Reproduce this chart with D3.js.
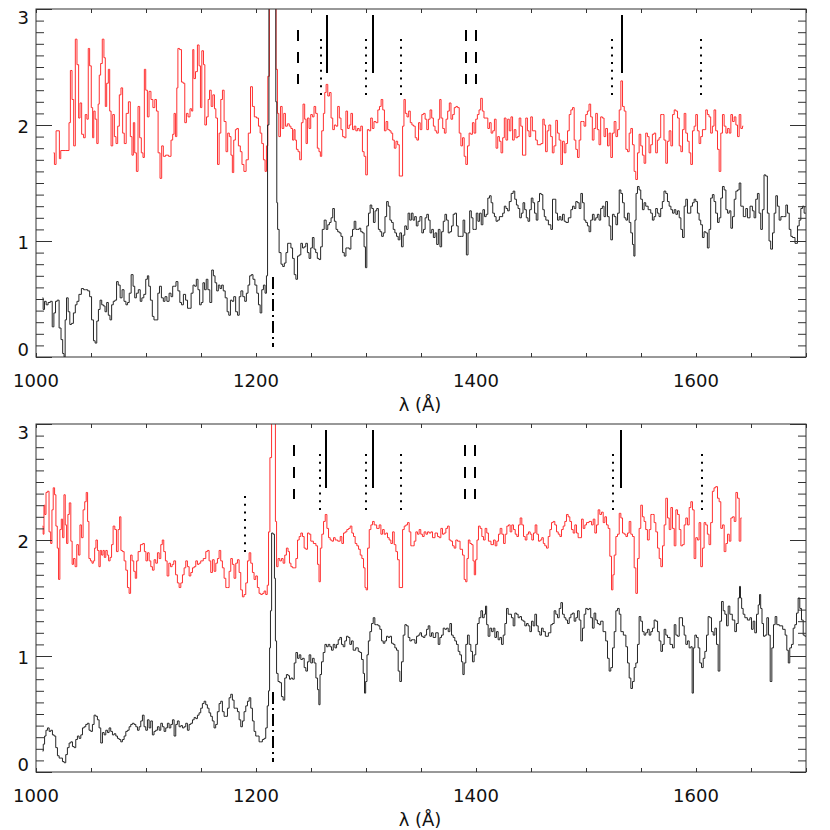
<!DOCTYPE html>
<html>
<head>
<meta charset="utf-8">
<script src="https://cdn.jsdelivr.net/npm/d3@7"></script>
<style>
  body { margin: 0; background: #fff; }
  svg { display: block; }
  text { font-family: "DejaVu Sans", sans-serif; fill: #111; }
</style>
</head>
<body>
<div id="chart"></div>
<script>
// spectra, [wavelength (A), flux]
const topRed = [
  [1016,1.76],[1017.5,1.66],[1019,1.95],[1021,1.95],[1021.5,1.71],[1023.5,1.78],[1029.5,1.78],[1030.5,2.02],[1032,2.47],[1033.5,2.22],
  [1035,1.82],[1036.5,2.74],[1038,2.52],[1039.5,2.06],[1040.5,2.19],[1042.5,1.92],[1044,1.89],[1045.5,2.09],[1047,2.05],[1048,2.66],
  [1049.5,2.51],[1051,2.15],[1052,1.89],[1053,2.12],[1054.5,2.05],[1056,1.84],[1057,2.18],[1058,2.43],[1059.5,2.53],[1061,2.74],
  [1062.5,2.58],[1063.5,2.16],[1065,2.36],[1066.5,2.48],[1067.5,2.12],[1069,1.82],[1070.5,2.09],[1072,1.90],[1073.5,1.84],[1075,1.99],
  [1076.5,2.26],[1078,2.32],[1079.5,1.93],[1081,1.84],[1083,2.10],[1085,2.20],[1086.5,1.90],[1088,1.74],[1089,2.02],[1090.5,1.76],
  [1092,1.60],[1093.5,2.16],[1095,1.89],[1096.5,1.76],[1098,1.72],[1099,2.48],[1100.5,2.30],[1102,2.07],[1103.5,2.29],[1105.5,2.22],
  [1107,2.15],[1109,2.22],[1110,2.12],[1112,1.76],[1113.5,1.54],[1115,1.82],[1116.5,1.73],[1119,1.74],[1122,1.73],[1123.5,1.87],
  [1125,1.92],[1126,2.10],[1127.5,1.90],[1128.5,2.32],[1129.5,2.66],[1131.5,2.65],[1133,2.37],[1134.5,2.36],[1136,2.02],[1137.5,2.10],
  [1139,2.07],[1141,2.14],[1142,2.12],[1143,2.65],[1144,2.40],[1146,2.46],[1147.5,2.69],[1149,2.51],[1150,2.15],[1151.5,2.64],
  [1153,2.52],[1154,2.00],[1156,2.07],[1157,2.22],[1158.5,2.30],[1160,2.16],[1161.5,2.26],[1163,2.14],[1164,2.06],[1166,1.66],
  [1167,1.93],[1169,2.22],[1170,2.30],[1172,2.03],[1173.5,1.77],[1175,1.93],[1176.5,1.90],[1178,1.74],[1179,1.59],[1180.5,1.87],
  [1182,1.96],[1183,1.97],[1185,1.82],[1186.5,1.77],[1188,1.66],[1190,1.60],[1192,1.70],[1194,1.93],[1196,2.33],[1197.5,2.16],
  [1199.5,2.07],[1201.5,2.06],[1203,1.99],[1204.5,1.93],[1206,1.84],[1207.5,1.70],[1209,1.60],[1210,1.82],[1211.5,2.42],[1213,3.4],
  [1215.5,3.4],[1217.5,3.4],[1219,2.48],[1220,2.10],[1221.5,1.90],[1223,2.16],[1224.5,1.97],[1226,2.10],[1227.5,1.99],[1229.5,2.01],
  [1231,1.99],[1232.5,1.97],[1234,1.87],[1235,1.96],[1236,1.87],[1237.5,1.79],[1239,1.77],[1240.5,1.70],[1242,2.02],[1243.5,2.18],
  [1245,2.05],[1246,1.84],[1247.5,2.06],[1249,1.97],[1250.5,2.09],[1252,2.07],[1253.5,2.16],[1255,2.10],[1256.5,1.80],[1258,1.77],
  [1259,1.73],[1260.5,1.95],[1262,2.10],[1263,2.28],[1264.5,2.35],[1266,2.25],[1267.5,2.28],[1269,2.06],[1270.5,1.96],[1272,2.00],
  [1273.5,1.99],[1275,2.16],[1276.5,2.06],[1278,1.96],[1279.5,1.90],[1281,1.89],[1282.5,2.12],[1284,1.97],[1285.5,2.00],[1287,2.10],
  [1288.5,1.96],[1290,1.99],[1291.5,1.95],[1293,1.97],[1294.5,1.95],[1296,1.99],[1297.5,1.77],[1299,1.73],[1300.5,1.57],[1302,1.96],
  [1303.5,1.95],[1305,2.06],[1306.5,1.97],[1308,2.03],[1310,2.02],[1311.5,2.13],[1313,2.16],[1314.5,2.22],[1316,2.13],[1317.5,1.95],
  [1319,2.03],[1320.5,1.96],[1322,1.95],[1323.5,1.93],[1325,1.87],[1326.5,1.80],[1328,1.86],[1329.5,1.83],[1331,1.56],[1332.5,1.56],
  [1334,1.99],[1335,2.22],[1336.5,2.10],[1338,2.07],[1339.5,2.12],[1341,2.02],[1342.5,2.00],[1344,1.99],[1345.5,1.89],[1347,1.87],
  [1348.5,2.02],[1350,1.96],[1351.5,2.09],[1353,2.10],[1354.5,2.05],[1356,1.96],[1357.5,2.05],[1359,2.13],[1360.5,2.06],[1362,1.99],
  [1363.5,1.95],[1365,1.93],[1366.5,2.05],[1367.5,2.22],[1369,2.06],[1370.5,1.97],[1372,1.93],[1373.5,2.05],[1375,2.12],[1376.5,2.19],
  [1378,2.05],[1379.5,2.09],[1381,2.15],[1382.5,2.16],[1384,2.15],[1385.5,1.93],[1387,1.82],[1388.5,1.89],[1390,1.73],[1391.5,1.66],
  [1393,1.82],[1394.5,1.93],[1396,1.92],[1397.5,2.02],[1399,1.93],[1400.5,2.05],[1402,2.09],[1403.5,2.13],[1405,2.23],[1406.5,2.12],
  [1408,2.06],[1410,2.06],[1411.5,1.97],[1413,2.02],[1414.5,1.93],[1416,1.95],[1417.5,2.05],[1419,1.80],[1420.5,1.90],[1422,1.86],
  [1423.5,1.76],[1425,1.89],[1426.5,2.06],[1428,1.87],[1429.5,2.05],[1431,1.95],[1432.5,2.07],[1434,1.87],[1435.5,1.96],[1437,1.89],
  [1438.5,1.90],[1440,2.06],[1441.5,1.99],[1443,1.74],[1444.5,1.74],[1446,2.06],[1447.5,1.95],[1449,1.90],[1450.5,2.07],[1452,1.95],
  [1453.5,1.95],[1455,1.87],[1456.5,1.83],[1458,1.83],[1460,1.84],[1461.5,2.05],[1462.5,2.00],[1464,1.77],[1465.5,1.95],[1467,2.00],
  [1468.8,1.90],[1470,1.76],[1471.8,1.82],[1473.3,2.04],[1474.8,1.93],[1476.4,1.87],[1477.9,1.66],[1479.4,1.86],[1481,1.76],[1482.4,1.84],
  [1484,1.95],[1485.5,2.09],[1487,2.13],[1488.5,2.15],[1490,1.87],[1491.5,1.79],[1493,1.72],[1494.5,1.87],[1496,2.03],[1497.5,2.03],
  [1499,1.99],[1500.5,2.09],[1502,2.12],[1503.5,2.18],[1505,2.07],[1506.5,1.87],[1508,1.97],[1509.7,2.10],[1511,1.96],[1512.7,1.83],
  [1514,2.07],[1515.8,2.06],[1517,1.90],[1518.8,1.97],[1520.3,1.82],[1521.8,1.93],[1523.3,1.72],[1524.8,1.93],[1526.4,2.03],[1528,1.90],
  [1529.4,1.96],[1531,2.13],[1532.4,2.38],[1534,2.16],[1535.5,2.12],[1537,1.79],[1538.5,1.77],[1540,1.93],[1541.5,1.97],[1543,1.83],
  [1544.5,1.60],[1546,1.53],[1547.6,1.76],[1549,1.92],[1550.6,1.82],[1552,1.74],[1553.6,1.67],[1555,1.93],[1556.7,1.90],[1558,1.76],
  [1559.7,1.83],[1561,1.92],[1562.7,1.93],[1564,1.76],[1565.8,1.87],[1567,1.89],[1568.8,2.09],[1570,2.09],[1571.8,1.87],[1573.3,1.67],
  [1574.8,1.86],[1576.4,1.95],[1578,1.82],[1579.4,2.09],[1581,2.13],[1582.4,2.12],[1584,2.06],[1585.5,1.82],[1587,1.77],[1588.5,1.96],
  [1590,2.10],[1591.5,1.93],[1593,1.86],[1594.5,1.76],[1596,1.66],[1597.6,1.95],[1599,1.99],[1600.6,2.09],[1602,1.95],[1603.6,1.84],
  [1605,1.90],[1606.7,1.96],[1608,1.96],[1609.7,2.13],[1611,2.09],[1612.7,2.07],[1614,1.93],[1615.8,1.99],[1617,2.13],[1618.8,1.95],
  [1620.3,1.79],[1621.8,1.60],[1623.3,1.93],[1624.8,2.09],[1626.4,1.99],[1628,1.93],[1629.4,1.97],[1631,1.93],[1632.4,2.09],[1634,2.03],
  [1635.5,2.07],[1637,2.00],[1638.5,1.90],[1640,2.09],[1641.5,1.97],[1643,1.99]
];

const topBlack = [
  [1006,0.51],[1007,0.41],[1008.5,0.48],[1010,0.45],[1012,0.47],[1014,0.48],[1015.5,0.26],[1017,0.38],[1018.5,0.48],[1020,0.49],
  [1022,0.25],[1023.5,0.15],[1025,0.03],[1026,0.0],[1027,0.32],[1028.5,0.51],[1030,0.39],[1031.5,0.28],[1033,0.29],[1035,0.38],
  [1036.5,0.45],[1038,0.48],[1040,0.54],[1042.5,0.59],[1044,0.58],[1046,0.58],[1048,0.57],[1049.5,0.52],[1051.5,0.32],[1053,0.14],
  [1054.5,0.12],[1056,0.31],[1057.5,0.41],[1059,0.49],[1060.5,0.45],[1062,0.44],[1063.5,0.39],[1065,0.47],[1066.5,0.36],[1068,0.32],
  [1069.5,0.45],[1071,0.48],[1072.5,0.49],[1074,0.65],[1075.5,0.62],[1077.5,0.51],[1079,0.58],[1081,0.48],[1082.5,0.45],[1084,0.47],
  [1085.5,0.55],[1087.5,0.71],[1089,0.61],[1090.5,0.51],[1092,0.55],[1094,0.58],[1095.5,0.48],[1097,0.51],[1099,0.54],[1100.5,0.67],
  [1102,0.70],[1103,0.61],[1105,0.49],[1106.5,0.35],[1108,0.32],[1110,0.32],[1111.5,0.55],[1113,0.61],[1115,0.51],[1116.5,0.48],
  [1118,0.52],[1120,0.48],[1122,0.55],[1123.5,0.52],[1125,0.61],[1126.5,0.61],[1128,0.65],[1130,0.57],[1131.5,0.47],[1133,0.45],
  [1135,0.54],[1137,0.49],[1138.5,0.42],[1140,0.42],[1142,0.55],[1143.5,0.62],[1145,0.61],[1146.5,0.67],[1148,0.58],[1149.5,0.45],
  [1151,0.47],[1152.5,0.64],[1154,0.58],[1155.5,0.67],[1157,0.58],[1159,0.47],[1160.5,0.75],[1162,0.70],[1163.5,0.64],[1165,0.57],
  [1166.5,0.62],[1168,0.59],[1169.5,0.62],[1171,0.57],[1173,0.51],[1174.5,0.39],[1176,0.36],[1177.5,0.49],[1179,0.48],[1180.5,0.52],
  [1182.5,0.39],[1184,0.36],[1185.5,0.52],[1187,0.57],[1189,0.52],[1190.5,0.48],[1192,0.55],[1193.5,0.62],[1195,0.70],[1196.5,0.71],
  [1198,0.67],[1200,0.62],[1201.5,0.55],[1203,0.45],[1204.5,0.38],[1206,0.58],[1207.5,0.62],[1209,0.55],[1210,0.70],[1211,2.0],
  [1212.5,3.4],[1215,3.4],[1217.5,3.4],[1218.5,2.2],[1219.3,1.33],[1220,1.10],[1222,0.90],[1223.5,0.80],[1225,0.78],[1226.5,0.81],
  [1228,0.90],[1229.5,0.98],[1231,0.98],[1232.5,0.94],[1234,0.85],[1235.5,0.71],[1237,0.67],[1238.5,0.87],[1240,0.88],[1241.5,0.98],
  [1243,0.94],[1244.5,0.95],[1246,0.98],[1247.5,0.90],[1249,0.85],[1250.5,0.94],[1252,1.03],[1253.5,0.93],[1255,0.90],[1256.5,0.85],
  [1258,0.84],[1259.5,0.95],[1261,1.10],[1263,1.18],[1264.5,1.10],[1266,1.14],[1267.5,1.16],[1269,1.20],[1270.5,1.28],[1272,1.17],
  [1273.5,1.10],[1275,1.08],[1276.5,1.07],[1278,1.04],[1279.5,0.90],[1281,0.87],[1282.5,0.94],[1284,0.94],[1285.5,0.93],[1287,1.04],
  [1288.5,1.10],[1290,1.17],[1291.5,1.10],[1293,1.10],[1294.5,1.11],[1296,1.08],[1297.5,1.07],[1299,0.95],[1300,0.77],[1301.5,1.13],
  [1303,1.24],[1304.5,1.31],[1306,1.28],[1307.5,1.16],[1309,1.26],[1310.5,1.28],[1312,1.10],[1313.5,1.08],[1315,1.04],[1316.5,1.07],
  [1318,1.21],[1319.5,1.34],[1321,1.30],[1322.5,1.18],[1324,1.16],[1325.5,1.10],[1327,1.07],[1328.5,1.04],[1330,1.01],[1331.5,1.07],
  [1333,0.95],[1334.5,1.05],[1336,1.13],[1337.5,1.10],[1339,1.24],[1340.5,1.18],[1342,1.24],[1343.5,1.18],[1345,1.21],[1346.5,1.13],
  [1348,1.17],[1350,1.21],[1351.5,1.07],[1353,1.10],[1354.5,1.20],[1356,1.23],[1357.5,1.18],[1359,1.07],[1360.5,1.10],[1362,1.03],
  [1363.5,1.07],[1365,0.97],[1366.5,1.10],[1368,0.95],[1369.5,1.08],[1371,1.17],[1372.5,1.23],[1374,1.18],[1375.5,1.07],[1377,1.08],
  [1378.5,1.13],[1380,1.23],[1381.5,1.24],[1383,1.13],[1384.5,1.04],[1386,1.04],[1387.5,1.04],[1389,1.18],[1390.5,1.07],[1392,0.88],
  [1393.5,1.07],[1395,1.26],[1396.5,1.20],[1398,1.10],[1399.5,1.10],[1401,1.24],[1402.5,1.17],[1404,1.24],[1405.5,1.14],[1407,1.27],
  [1408.5,1.21],[1410,1.23],[1411.5,1.37],[1413,1.39],[1414.5,1.33],[1416,1.24],[1417.5,1.21],[1419,1.17],[1420.5,1.18],[1422,1.21],
  [1423.5,1.21],[1425,1.24],[1426.5,1.30],[1428,1.28],[1429.5,1.26],[1431,1.34],[1433,1.41],[1434.5,1.43],[1436,1.36],[1437.5,1.31],
  [1439,1.28],[1440.5,1.20],[1442,1.24],[1443.5,1.33],[1445,1.27],[1446.5,1.20],[1448,1.17],[1449.5,1.27],[1451,1.37],[1452.5,1.33],
  [1454,1.24],[1455.5,1.18],[1457,1.34],[1458.5,1.41],[1460,1.40],[1461.5,1.27],[1462.7,1.21],[1464.3,1.18],[1467.3,1.14],[1468.8,1.10],
  [1470.3,1.36],[1471.8,1.36],[1473.3,1.24],[1474.9,1.18],[1476.4,1.21],[1477.9,1.18],[1479.4,1.23],[1481,1.17],[1482.4,1.16],[1485.5,1.20],
  [1487,1.27],[1488.5,1.30],[1490,1.28],[1491.5,1.34],[1493,1.33],[1494.6,1.28],[1496,1.41],[1497.6,1.33],[1499,1.18],[1500.6,1.16],
  [1502,1.13],[1503.6,1.08],[1505,1.18],[1506.7,1.23],[1508,1.18],[1509.7,1.20],[1511,1.23],[1512.7,1.18],[1514,1.28],[1515.8,1.30],
  [1517,1.21],[1518.8,1.34],[1520.3,1.21],[1521.8,1.13],[1523.3,1.01],[1524.8,1.23],[1526.4,1.21],[1528,1.14],[1529.4,1.24],[1531,1.44],
  [1532.4,1.41],[1534,1.33],[1535.5,1.20],[1537,1.18],[1538.5,1.24],[1540,1.16],[1541.5,1.07],[1543,0.97],[1544,0.87],[1545,1.18],
  [1546,1.41],[1547.6,1.47],[1549,1.44],[1550.6,1.36],[1552,1.27],[1553.6,1.33],[1555,1.30],[1558,1.27],[1559.7,1.24],[1561,1.18],
  [1562.7,1.21],[1564,1.28],[1565.8,1.24],[1567,1.21],[1568.8,1.28],[1570,1.34],[1571.8,1.43],[1573.3,1.41],[1574.8,1.34],[1576.4,1.30],
  [1578,1.27],[1579.4,1.24],[1581,1.27],[1582.4,1.23],[1584,1.26],[1585.5,1.20],[1587,1.10],[1588.5,1.03],[1590,1.30],[1591.5,1.36],
  [1593,1.24],[1594.5,1.24],[1596,1.30],[1597.6,1.33],[1599,1.36],[1600.6,1.34],[1602,1.24],[1603.6,1.18],[1605,1.14],[1606.7,1.03],
  [1608,1.08],[1609.7,1.07],[1611,0.94],[1612.7,1.10],[1614,1.37],[1615.8,1.40],[1617,1.34],[1618.8,1.24],[1620.3,1.16],[1621.8,1.20],
  [1623.3,1.37],[1624.8,1.47],[1626.4,1.44],[1628,1.27],[1629.4,1.24],[1631,1.26],[1632.4,1.11],[1634,1.21],[1635.5,1.36],[1637,1.43],
  [1638.5,1.44],[1640,1.50],[1641.5,1.30],[1644.5,1.21],[1646,1.28],[1647.6,1.20],[1650.6,1.30],[1652,1.26],[1653.6,1.20],[1655,1.36],
  [1656.7,1.41],[1658,1.24],[1659.7,1.10],[1661,1.27],[1662.7,1.57],[1664,1.56],[1665.8,1.24],[1667,1.00],[1668.8,0.93],[1670.3,1.07],
  [1671.8,1.24],[1673.3,1.39],[1674.8,1.30],[1676.4,1.18],[1678,1.21],[1681,1.21],[1682.4,1.31],[1684,1.24],[1685.5,1.10],[1687,1.04],
  [1688.5,1.03],[1691.5,0.98],[1693,1.13],[1694.6,1.18],[1696,1.28],[1697.6,1.30],[1699,1.24],[1700.5,1.24]
];

const botRed = [
  [1006,2.12],[1007,2.05],[1007.5,2.30],[1008.5,2.22],[1009.7,2.41],[1011,2.42],[1012.7,2.07],[1014,1.97],[1015,2.26],[1016.3,2.45],
  [1017.5,2.39],[1018.7,2.12],[1020,1.93],[1021,1.66],[1022.4,2.09],[1023.6,2.18],[1024.8,2.02],[1026,2.39],[1027.2,2.13],[1028.4,1.97],
  [1029.6,2.22],[1030.9,2.32],[1032.4,1.99],[1033.3,1.79],[1034.8,1.84],[1036.3,1.77],[1037.8,1.96],[1039.3,1.87],[1040.6,2.13],[1042,2.02],
  [1043.6,2.26],[1045,2.33],[1046.3,2.41],[1047.5,2.16],[1048.7,1.84],[1050.3,1.82],[1051.5,1.80],[1052.7,1.82],[1053.9,1.93],[1055.1,2.00],
  [1056.6,1.91],[1057.8,1.77],[1059,1.91],[1060.3,1.87],[1061.5,1.91],[1062.7,1.85],[1064.2,1.91],[1065.4,1.87],[1066.6,1.82],[1068.1,1.85],
  [1069.3,1.96],[1070.9,2.12],[1072.4,2.09],[1073.9,1.90],[1075.4,2.09],[1076.6,2.20],[1077.8,1.91],[1079.3,1.90],[1080.9,1.82],[1082.4,1.74],
  [1083.9,1.59],[1085.4,1.54],[1086.6,1.87],[1088.1,1.82],[1089.6,1.73],[1090.9,1.67],[1092.1,1.82],[1093.6,1.90],[1096.3,1.96],[1097.8,1.97],
  [1099.3,1.90],[1100.6,1.82],[1102.1,1.89],[1103.6,1.82],[1105.1,1.77],[1106.6,1.74],[1108.1,1.83],[1109.6,1.80],[1111.2,1.89],[1112.7,1.84],
  [1114.2,1.96],[1115.4,2.00],[1116.9,1.90],[1118.4,1.82],[1120,1.69],[1121.5,1.80],[1123,1.77],[1124.5,1.79],[1126,1.82],[1127.8,1.70],
  [1129.3,1.63],[1130.9,1.59],[1132.4,1.63],[1133.9,1.70],[1135.4,1.76],[1136.9,1.82],[1138.4,1.77],[1140,1.69],[1141.5,1.72],[1143,1.76],
  [1144.5,1.77],[1146,1.82],[1147.5,1.79],[1149,1.80],[1150.5,1.82],[1153.6,1.84],[1155.1,1.90],[1156.6,1.91],[1158.1,1.82],[1159.6,1.72],
  [1161.2,1.83],[1162.7,1.73],[1164.2,1.80],[1165.7,1.84],[1167.2,1.91],[1168.7,1.82],[1170.2,1.76],[1171.8,1.67],[1173.3,1.59],[1174.8,1.59],
  [1176.3,1.73],[1177.8,1.84],[1179.3,1.79],[1180.8,1.67],[1182.4,1.80],[1183.9,1.83],[1185.4,1.72],[1186.9,1.57],[1188.4,1.51],[1189.9,1.53],
  [1191.5,1.63],[1193,1.82],[1194.5,1.89],[1196,1.80],[1197.5,1.72],[1199,1.66],[1200.5,1.69],[1202,1.59],[1203.6,1.54],[1205,1.53],
  [1206.6,1.54],[1208.1,1.56],[1209.6,1.53],[1210.8,1.61],[1212,2.07],[1213.3,2.71],[1215,3.4],[1217.2,3.4],[1218.1,2.16],[1219.3,1.77],
  [1220.8,1.84],[1222.4,1.82],[1223.9,1.84],[1225.4,1.80],[1226.9,1.87],[1228.4,1.93],[1229.9,1.90],[1231,1.80],[1232.5,1.77],[1234,1.76],
  [1235.5,1.76],[1237,1.84],[1238.5,2.00],[1240,2.03],[1241.5,2.06],[1243,2.03],[1244.5,1.93],[1246,1.92],[1247.6,2.06],[1249,2.05],
  [1250.6,1.99],[1253.7,1.97],[1255.2,1.95],[1256.7,1.79],[1257.9,1.64],[1259.1,1.93],[1260.6,2.05],[1262.2,2.16],[1263.7,2.22],[1265.2,2.10],
  [1266.7,2.02],[1268.2,2.00],[1269.7,1.99],[1271.2,2.02],[1272.8,2.00],[1275.8,1.99],[1277.3,2.03],[1278.8,1.97],[1280.3,2.06],[1281.8,2.07],
  [1283.4,2.09],[1284.9,2.10],[1286.4,2.12],[1287.9,2.06],[1289.4,2.03],[1290.9,1.97],[1292.5,1.95],[1294,1.92],[1295.5,1.87],[1297,1.84],
  [1298.5,1.76],[1299.7,1.59],[1300.6,1.57],[1302.2,1.93],[1303.7,2.09],[1305.2,2.13],[1306.7,2.16],[1308.2,2.13],[1311.2,2.10],[1312.8,2.13],
  [1314.3,2.05],[1315.8,2.09],[1317.3,2.05],[1318.8,2.06],[1320.3,2.02],[1321.8,2.00],[1323.4,1.97],[1324.9,2.07],[1326.4,1.96],[1327.9,1.90],
  [1329.4,1.83],[1331,1.59],[1332.5,1.59],[1334,2.09],[1335.5,2.12],[1337,2.13],[1338.5,2.15],[1340,2.07],[1341.5,1.95],[1343,1.95],
  [1344.6,1.99],[1346,2.07],[1347.6,2.05],[1349,2.09],[1350.6,2.05],[1352,2.03],[1353.7,2.07],[1355.2,2.05],[1356.7,2.07],[1358.2,2.06],
  [1359.7,2.07],[1361.2,2.02],[1364.3,2.06],[1365.8,2.03],[1367.3,2.02],[1368.8,2.10],[1370.3,2.05],[1371.8,2.06],[1373.4,2.10],[1374.9,2.12],
  [1376.4,2.00],[1377.9,1.99],[1379.4,1.95],[1380.9,1.93],[1382.4,2.00],[1384,1.99],[1387,1.92],[1388.5,1.87],[1390,1.66],[1391.2,1.64],
  [1392.4,1.84],[1393.7,2.00],[1395.2,1.97],[1396.7,1.96],[1397.9,1.82],[1399,1.70],[1400.3,1.83],[1401.5,2.00],[1403,2.12],[1404.6,2.10],
  [1406,2.03],[1407.6,2.00],[1409,2.10],[1410.6,2.06],[1412,1.99],[1415.2,1.96],[1416.7,2.00],[1418.2,1.95],[1419.7,1.99],[1421.2,2.05],
  [1422.7,2.10],[1424.3,2.05],[1425.8,1.97],[1427.3,2.05],[1428.8,2.12],[1430.3,2.13],[1431.8,2.07],[1433.3,2.13],[1434.9,2.09],[1436.4,2.05],
  [1437.9,2.03],[1439.4,2.13],[1440.9,2.19],[1442.4,2.13],[1444,2.03],[1445.5,2.00],[1447,2.05],[1448.5,2.07],[1450,2.05],[1451.5,2.00],
  [1453,2.06],[1454.6,2.13],[1456,2.05],[1457.6,1.99],[1459,2.00],[1460.6,2.02],[1461.8,1.97],[1463.3,1.95],[1464.9,1.93],[1466.4,2.03],
  [1467.9,2.09],[1469.4,2.15],[1470.9,2.16],[1472.4,2.13],[1474,2.07],[1475.5,2.05],[1477,2.03],[1478.5,2.09],[1480,2.12],[1481.5,2.16],
  [1483,2.22],[1484.6,2.20],[1486,2.16],[1487.6,2.09],[1489.1,2.06],[1490.6,2.13],[1492.1,2.06],[1493.6,2.02],[1495.2,2.02],[1496.7,2.18],
  [1498.2,2.10],[1499.7,2.13],[1501.2,2.15],[1504.3,2.16],[1505.8,2.13],[1507.3,2.18],[1508.8,2.06],[1510.3,2.13],[1511.8,2.26],[1513.3,2.22],
  [1514.9,2.24],[1516.4,2.15],[1517.9,2.20],[1519.4,2.13],[1520.9,2.10],[1522.4,1.86],[1524,1.57],[1524.9,1.70],[1526.4,1.87],[1527.9,2.03],
  [1529.4,2.05],[1531,2.23],[1532.4,2.19],[1534,2.06],[1535.5,2.05],[1537,2.03],[1538.5,2.06],[1540,2.16],[1541.5,2.05],[1543,2.03],
  [1544.6,1.76],[1546,1.54],[1547.6,1.84],[1549,2.10],[1550.6,2.30],[1552,2.20],[1553.6,2.16],[1555,2.09],[1556.7,2.00],[1558.2,2.09],
  [1559.7,2.22],[1561.2,2.22],[1562.7,2.15],[1564.3,2.07],[1565.8,1.93],[1567.3,1.84],[1568.8,1.77],[1570.3,1.95],[1571.8,2.13],[1573.3,2.36],
  [1574.9,2.19],[1576.4,2.09],[1577.9,2.28],[1579.4,2.10],[1581,1.95],[1582.4,2.26],[1584,2.22],[1585.5,2.09],[1587,1.95],[1588.5,1.96],
  [1590,2.13],[1591.5,2.19],[1593,2.13],[1594.6,2.28],[1596,2.33],[1597.6,2.26],[1599,1.84],[1600.6,2.02],[1602,2.00],[1603.6,2.15],
  [1605,1.77],[1606.7,1.93],[1608,2.15],[1609.7,2.13],[1611,2.05],[1612.7,1.96],[1614,2.15],[1615.8,2.42],[1617,2.45],[1618.8,2.46],
  [1620.3,2.36],[1621.8,2.33],[1623.3,2.10],[1624.8,2.13],[1626.4,1.90],[1627.9,1.97],[1629.4,2.05],[1631,1.99],[1632.4,2.19],[1634,2.20],
  [1635.5,2.16],[1637,2.41],[1638.5,2.36],[1640,1.99],[1641.5,2.19]
];

const botBlack = [
  [1006,0.18],[1007.2,0.24],[1008.4,0.31],[1009.7,0.36],[1011.2,0.38],[1012.7,0.35],[1014.2,0.36],[1015.7,0.32],[1017.2,0.31],[1018.7,0.21],
  [1020.3,0.14],[1021.8,0.12],[1023.3,0.12],[1024.8,0.09],[1026.3,0.08],[1027.8,0.15],[1029.3,0.21],[1030.9,0.25],[1032.4,0.26],[1033.9,0.22],
  [1035.4,0.21],[1036.9,0.28],[1038.4,0.31],[1040,0.29],[1041.5,0.32],[1043,0.38],[1044.5,0.39],[1046,0.41],[1047.5,0.42],[1049,0.36],
  [1050.6,0.35],[1052,0.41],[1053.6,0.49],[1055.1,0.48],[1056.6,0.45],[1058.1,0.38],[1059.6,0.25],[1061.2,0.34],[1062.7,0.32],[1064.2,0.36],
  [1065.7,0.34],[1067.2,0.38],[1068.7,0.35],[1070.3,0.32],[1071.8,0.33],[1073.3,0.31],[1074.8,0.29],[1076.3,0.28],[1077.8,0.26],[1079.3,0.28],
  [1080.9,0.31],[1082.4,0.35],[1083.9,0.36],[1085.4,0.39],[1086.9,0.41],[1088.4,0.42],[1090,0.41],[1091.5,0.39],[1093,0.36],[1094.5,0.39],
  [1096,0.44],[1097.5,0.49],[1099,0.39],[1100.6,0.36],[1102,0.45],[1103.6,0.38],[1105,0.44],[1106.6,0.32],[1108,0.35],[1109.6,0.36],
  [1111.2,0.39],[1112.7,0.36],[1114.2,0.42],[1115.7,0.39],[1117.2,0.35],[1118.7,0.38],[1120.2,0.42],[1121.8,0.38],[1123.3,0.41],[1124.8,0.45],
  [1126.3,0.31],[1127.8,0.41],[1129.3,0.44],[1130.9,0.39],[1132.4,0.40],[1133.9,0.38],[1135.4,0.39],[1136.9,0.42],[1138.4,0.36],[1140,0.41],
  [1141.5,0.42],[1143,0.45],[1144.5,0.47],[1146,0.46],[1147.5,0.49],[1149,0.51],[1150.5,0.55],[1152,0.59],[1153.6,0.61],[1155,0.58],
  [1156.6,0.55],[1158,0.51],[1159.6,0.48],[1161,0.44],[1162.7,0.38],[1164,0.41],[1165.7,0.52],[1167.2,0.59],[1168.7,0.61],[1170.2,0.52],
  [1171.8,0.48],[1173.3,0.48],[1174.8,0.55],[1176.3,0.64],[1177.8,0.67],[1179.3,0.62],[1180.8,0.55],[1182.4,0.55],[1183.9,0.52],[1185.4,0.45],
  [1186.9,0.39],[1188.4,0.44],[1189.9,0.52],[1191.5,0.57],[1193,0.61],[1194.5,0.64],[1196,0.55],[1197.5,0.44],[1199,0.35],[1200.5,0.31],
  [1202,0.31],[1203.6,0.26],[1205,0.26],[1206.6,0.28],[1208.1,0.29],[1209.6,0.38],[1210.8,0.57],[1212,0.70],[1212.7,1.07],[1213.6,1.39],
  [1214.8,2.06],[1216.3,2.05],[1217.2,1.67],[1218.1,1.13],[1219.3,0.85],[1220.8,0.78],[1222.4,0.77],[1223.9,0.65],[1225.4,0.62],[1226.9,0.81],
  [1228.4,0.84],[1229.9,0.83],[1231,0.80],[1232.5,0.81],[1234,0.80],[1235.5,0.94],[1237,1.03],[1238.5,0.98],[1240,1.01],[1241.5,0.97],
  [1243,0.98],[1244.6,0.90],[1246,0.87],[1247.6,0.95],[1249,1.01],[1250.6,0.94],[1252,0.98],[1253.7,0.94],[1255.2,0.81],[1256.7,0.71],
  [1257.6,0.58],[1258.8,0.84],[1260.3,0.95],[1261.9,1.03],[1263.4,1.10],[1264.9,1.08],[1266.4,1.10],[1267.9,1.08],[1269.4,1.05],[1271,1.10],
  [1272.5,1.07],[1274,1.10],[1275.5,1.14],[1277,1.16],[1278.5,1.10],[1280,1.08],[1281.5,1.13],[1283,1.17],[1284.6,1.16],[1286,1.10],
  [1287.6,1.13],[1289.1,1.05],[1292.2,1.07],[1293.7,1.04],[1295.2,1.03],[1296.7,0.97],[1298.2,0.85],[1299.1,0.68],[1300.3,0.78],[1301.5,1.01],
  [1302.8,1.13],[1304.3,1.21],[1305.8,1.28],[1307.3,1.33],[1308.8,1.27],[1310.3,1.27],[1311.8,1.26],[1313.4,1.23],[1314.9,1.13],[1316.4,1.11],
  [1317.9,1.13],[1319.4,1.17],[1320.9,1.16],[1322.4,1.17],[1324,1.11],[1325.5,1.10],[1327,1.07],[1328.5,1.05],[1330,0.87],[1331.5,0.78],
  [1333,0.95],[1334.6,1.18],[1336.1,1.27],[1337.6,1.26],[1339.1,1.16],[1340.6,1.13],[1342.1,1.14],[1343.7,1.14],[1345.2,1.11],[1346.7,1.17],
  [1348.2,1.18],[1349.7,1.20],[1351.2,1.17],[1352.8,1.16],[1354.3,1.18],[1355.8,1.23],[1357.3,1.26],[1358.8,1.17],[1360.3,1.20],[1361.8,1.16],
  [1364.9,1.20],[1366.4,1.10],[1367.9,1.16],[1369.4,1.18],[1371,1.24],[1372.4,1.23],[1374,1.24],[1375.5,1.21],[1377,1.28],[1378.5,1.18],
  [1380,1.16],[1381.5,1.13],[1383,1.10],[1384.6,1.04],[1386,1.01],[1387.6,0.95],[1388.5,0.84],[1390,0.94],[1391.5,1.10],[1393,1.18],
  [1394.6,1.10],[1396,1.04],[1397.6,0.95],[1399,1.01],[1400.6,1.10],[1402,1.28],[1403.7,1.33],[1405.2,1.39],[1406.7,1.33],[1408.2,1.36],
  [1409.1,1.43],[1410.3,1.27],[1411.8,1.17],[1413.4,1.24],[1414.9,1.21],[1416.4,1.24],[1417.9,1.16],[1419.4,1.21],[1420.9,1.14],[1422.4,1.16],
  [1424,1.10],[1425.5,1.18],[1427,1.28],[1428.5,1.41],[1430,1.36],[1431.5,1.36],[1433,1.33],[1434.6,1.26],[1436,1.37],[1437.6,1.36],
  [1439,1.33],[1440.6,1.34],[1442.1,1.31],[1443.6,1.30],[1445.2,1.26],[1446.7,1.28],[1448.2,1.26],[1449.7,1.21],[1451.2,1.30],[1452.7,1.26],
  [1454.3,1.36],[1455.8,1.26],[1457.3,1.21],[1458.8,1.18],[1460.3,1.24],[1461.8,1.21],[1464.3,1.17],[1467.3,1.20],[1468.8,1.27],[1470.3,1.28],
  [1471.8,1.39],[1473.3,1.36],[1474.9,1.33],[1476.4,1.41],[1477.9,1.46],[1479.4,1.36],[1481,1.33],[1482.4,1.31],[1484,1.28],[1485.5,1.33],
  [1487,1.36],[1488.5,1.37],[1490,1.30],[1491.5,1.33],[1493,1.39],[1494.6,1.31],[1496,1.13],[1497.6,1.24],[1499,1.36],[1500.6,1.41],
  [1502,1.40],[1503.6,1.41],[1505,1.33],[1506.7,1.24],[1508,1.37],[1509.7,1.31],[1511,1.28],[1512.7,1.27],[1514,1.30],[1517,1.21],
  [1518.8,1.13],[1520.3,0.98],[1521.8,0.87],[1523.3,0.90],[1524.9,1.07],[1526.4,1.21],[1527.9,1.39],[1529.4,1.41],[1531,1.36],[1532.4,1.21],
  [1535.5,1.18],[1537,1.08],[1538.5,0.94],[1540,0.81],[1541.5,0.72],[1543,0.78],[1544.6,0.90],[1546,0.94],[1547.6,1.10],[1549,1.34],
  [1550.6,1.30],[1552,1.21],[1553.6,1.18],[1555,1.20],[1556.7,1.23],[1558.2,1.18],[1559.7,1.21],[1561.2,1.24],[1562.7,1.31],[1564.3,1.30],
  [1565.8,1.21],[1567.3,1.13],[1568.8,1.04],[1570.3,1.10],[1571.8,1.23],[1573.3,1.18],[1574.9,1.16],[1577.9,1.10],[1579.4,1.07],[1581,1.27],
  [1582.4,1.18],[1584,1.17],[1585.5,1.33],[1587,1.33],[1588.5,1.26],[1590,1.18],[1591.5,1.10],[1593,1.13],[1594.6,1.07],[1596,1.08],
  [1597,0.68],[1598.2,1.07],[1599.7,1.18],[1601.2,1.16],[1602.7,1.07],[1604.2,0.94],[1605.8,0.90],[1607.3,0.98],[1608.8,1.04],[1610.3,1.18],
  [1611.8,1.34],[1613.3,1.33],[1614.9,1.21],[1616.4,1.18],[1617.9,1.24],[1619.4,1.10],[1620.9,0.87],[1622.4,1.30],[1624,1.47],[1625.5,1.39],
  [1627,1.36],[1628.5,1.26],[1630,1.43],[1631.5,1.36],[1634.5,1.31],[1636,1.21],[1637.6,1.28],[1639.1,1.50],[1640,1.60],[1640.9,1.50],
  [1642.1,1.41],[1643.6,1.36],[1645.2,1.33],[1648.2,1.31],[1649.7,1.33],[1651.2,1.23],[1652.7,1.30],[1654.2,1.20],[1655.8,1.36],[1657.3,1.44],
  [1658.2,1.53],[1659.4,1.41],[1660.6,1.28],[1662.1,1.17],[1663.6,1.18],[1665.2,1.33],[1666.7,1.18],[1668.2,0.78],[1669.7,1.07],[1671.2,1.27],
  [1672.7,1.34],[1674.2,1.27],[1677.3,1.26],[1680.3,1.23],[1681.8,1.18],[1683.3,1.05],[1684.5,0.94],[1686,1.07],[1687.6,1.10],[1689.1,1.24],
  [1690.6,1.27],[1692.1,1.37],[1693.6,1.50],[1695.1,1.41],[1696.7,1.31],[1698.2,1.18],[1699.7,1.17],[1701,1.17]
];

// line identification marks, wavelength (A)
const topSolid = [1264.8, 1306.6, 1533.0];
const topDashed = [1237.9, 1390.8, 1400.0];
const topDotted = [1258.9, 1299.8, 1331.8, 1523.8, 1604.8];
const topDashDot = [1215.7];
const botSolid = [1263.8, 1306.6, 1531.8];
const botDashed = [1234.8, 1390.0, 1399.2];
const botDotted = [1258.0, 1299.8, 1331.8, 1524.7, 1605.0];
const botDottedLow = [1190.0];
const botDashDot = [1215.7];

const xTickLabels = [1000, 1200, 1400, 1600];
const yTickLabels = [0, 1, 2, 3];

const width = 830, height = 830;
const left = 36, right = 806;

const svg = d3.select("#chart").append("svg")
    .attr("width", width)
    .attr("height", height);

const x = d3.scaleLinear().domain([1000, 1700]).range([left, right]);

const panels = [
    { top: 9, bottom: 357, red: topRed, black: topBlack,
      marks: [[topSolid, "solid"], [topDashed, "dashed"], [topDotted, "dotted"], [topDashDot, "dashdot"]] },
    { top: 424, bottom: 772, red: botRed, black: botBlack,
      marks: [[botSolid, "solid"], [botDashed, "dashed"], [botDotted, "dotted"], [botDottedLow, "dottedLow"], [botDashDot, "dashdot"]] }
];

// vertical extent of each kind of mark, in flux units, and its dash pattern
const markStyle = {
    solid:     { span: [2.95, 2.45], dash: null },
    dashed:    { span: [2.82, 2.35], dash: "11,11" },
    dotted:    { span: [2.74, 2.25], dash: "2,5.7" },
    dottedLow: { span: [2.38, 1.90], dash: "2,5.7" },
    dashdot:   { span: [0.69, 0.09], dash: "12,4,2,4" }
};

panels.forEach((p, i) => {
    const y = d3.scaleLinear().domain([0, 3]).range([p.bottom, p.top]);
    const g = svg.append("g");

    const clipId = "clip" + i;
    svg.append("clipPath").attr("id", clipId)
        .append("rect")
        .attr("x", left).attr("y", p.top)
        .attr("width", right - left).attr("height", p.bottom - p.top);

    const line = d3.line()
        .x(d => x(d[0]))
        .y(d => y(d[1]))
        .curve(d3.curveStep);

    const plot = g.append("g").attr("clip-path", `url(#${clipId})`);

    plot.append("path")
        .datum(p.red)
        .attr("d", line)
        .attr("fill", "none")
        .attr("stroke", "#ff3030")
        .attr("stroke-width", 1);

    plot.append("path")
        .datum(p.black)
        .attr("d", line)
        .attr("fill", "none")
        .attr("stroke", "#262626")
        .attr("stroke-width", 1);

    // line marks, snapped to whole pixels so the dots stay crisp
    p.marks.forEach(([list, kind]) => {
        const st = markStyle[kind];
        g.selectAll(null)
            .data(list)
            .enter().append("line")
            .attr("x1", d => Math.round(x(d))).attr("x2", d => Math.round(x(d)))
            .attr("y1", Math.round(y(st.span[0]))).attr("y2", Math.round(y(st.span[1])))
            .attr("stroke", "#000")
            .attr("stroke-width", 2)
            .attr("stroke-dasharray", st.dash);
    });

    // axes: ticks point inward
    const yMinor = d3.range(0, 31).map(d => d / 10);
    g.append("g").attr("transform", `translate(${left},0)`)
        .call(d3.axisLeft(y).tickValues(yMinor).tickSizeInner(-8).tickSizeOuter(0).tickFormat(""));
    g.append("g").attr("transform", `translate(${left},0)`)
        .call(d3.axisLeft(y).tickValues(yTickLabels).tickSizeInner(-16).tickSizeOuter(0).tickFormat(""));
    g.append("g").attr("transform", `translate(${right},0)`)
        .call(d3.axisRight(y).tickValues(yMinor).tickSizeInner(-8).tickSizeOuter(0).tickFormat(""));
    g.append("g").attr("transform", `translate(${right},0)`)
        .call(d3.axisRight(y).tickValues(yTickLabels).tickSizeInner(-16).tickSizeOuter(0).tickFormat(""));

    const xTicks = d3.range(1000, 1701, 50);
    g.append("g").attr("transform", `translate(0,${p.bottom})`)
        .call(d3.axisBottom(x).tickValues(xTicks).tickSizeInner(-4).tickSizeOuter(0).tickFormat(""));
    g.append("g").attr("transform", `translate(0,${p.top})`)
        .call(d3.axisTop(x).tickValues(xTicks).tickSizeInner(-4).tickSizeOuter(0).tickFormat(""));

    g.selectAll(".domain").remove();
    g.selectAll(".tick line").attr("stroke", "#333");

    g.append("rect")
        .attr("x", left).attr("y", p.top)
        .attr("width", right - left).attr("height", p.bottom - p.top)
        .attr("fill", "none")
        .attr("stroke", "#333")
        .attr("stroke-width", 1);

    // tick labels
    g.selectAll(null)
        .data(yTickLabels)
        .enter().append("text")
        .attr("x", left - 7)
        .attr("y", d => Math.max(p.top + 8.5, Math.min(p.bottom - 7, y(d) + 2)))
        .attr("dy", "0.36em")
        .attr("text-anchor", "end")
        .style("font-size", "18px")
        .text(d => d);

    g.selectAll(null)
        .data(xTickLabels)
        .enter().append("text")
        .attr("x", d => x(d))
        .attr("y", p.bottom + 30)
        .attr("text-anchor", "middle")
        .style("font-size", "18px")
        .text(d => d);

    g.append("text")
        .attr("x", 420)
        .attr("y", p.bottom + 54)
        .attr("text-anchor", "middle")
        .style("font-size", "18px")
        .text("λ (Å)");
});
</script>
</body>
</html>
